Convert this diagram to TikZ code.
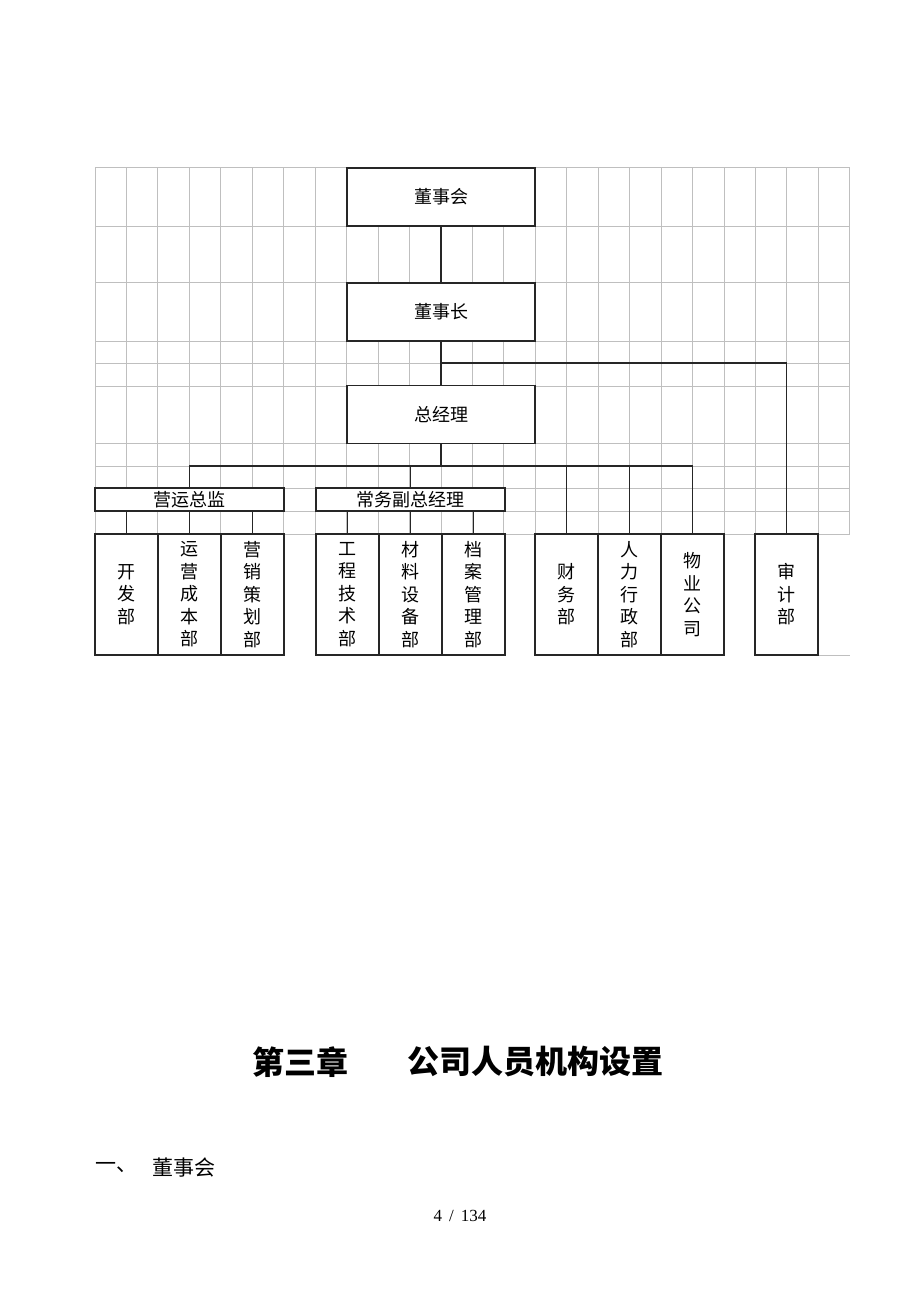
\documentclass[tikz,border=0pt]{standalone}
\usepackage{fontspec}
\setmainfont{Liberation Serif}
\newfontfamily\cjk{Noto Sans CJK SC}
\begin{document}
\begin{tikzpicture}[x=1pt,y=-1pt,
  gridline/.style={draw=gray!50,line width=0.9pt},
  box/.style={draw=black!85,line width=1.7pt,fill=white,inner sep=0pt,
    font=\cjk\fontsize{18}{21}\selectfont},
  bigbox/.style={box,minimum width=188pt,minimum height=58pt},
  midbox/.style={box,minimum width=189pt,minimum height=23pt},
  deptbox/.style={box,minimum width=63pt,minimum height=121pt,align=center,
    font=\cjk\fontsize{18}{22.5}\selectfont},
  conn/.style={draw=black!85,line width=1.9pt}]
\useasboundingbox (0,0) rectangle (920,1302);
\fill[white] (0,0) rectangle (920,1302);
% background grid
\foreach \yy in {167,226,282,341,363,386,443,466,488,511,534}
  \draw[gridline] (95,\yy) -- (850,\yy);
\foreach \k in {0,...,24}
  \draw[gridline] ({95+31.45*\k},167) -- ({95+31.45*\k},534);
\draw[gridline] (818,655) -- (850,655);
% top boxes
\node[bigbox] (dsh) at (441,197) {董事会};
\node[bigbox] (dsz) at (441,312) {董事长};
\node[bigbox] (zjl) at (441,414.5) {总经理};
% middle boxes
\node[midbox] (yy) at (189.5,499.5) {营运总监};
\node[midbox] (cw) at (410.5,499.5) {常务副总经理};
% departments
\node[deptbox] (kf) at (126.5,594.5) {开\\发\\部};
\node[deptbox] (yc) at (189.5,594.5) {运\\营\\成\\本\\部};
\node[deptbox] (yx) at (252.5,594.5) {营\\销\\策\\划\\部};
\node[deptbox] (gc) at (347.5,594.5) {工\\程\\技\\术\\部};
\node[deptbox] (cl) at (410.5,594.5) {材\\料\\设\\备\\部};
\node[deptbox] (da) at (473.5,594.5) {档\\案\\管\\理\\部};
\node[deptbox] (cwb) at (566.5,594.5) {财\\务\\部};
\node[deptbox] (rl) at (629.5,594.5) {人\\力\\行\\政\\部};
\node[deptbox] (wy) at (692.5,594.5) {物\\业\\公\\司};
\node[deptbox] (sj) at (786.5,594.5) {审\\计\\部};
% connectors
\coordinate (j1) at (441,363);
\coordinate (j2) at (441,466);
\draw[conn] (dsh.south) -- (dsz.north);
\draw[conn] (dsz.south) -- (zjl.north);
\draw[conn] (j1) -| (sj.north);
\draw[conn] (zjl.south) -- (j2);
\draw[conn] (yy.north) |- (j2) -| (wy.north);
\draw[conn] (cw.north) -- (cw.north |- j2);
\draw[conn] (cwb.north) -- (cwb.north |- j2);
\draw[conn] (rl.north) -- (rl.north |- j2);
\foreach \n in {kf,yc,yx} \draw[conn] (\n.north) -- (\n.north |- yy.south);
\foreach \n in {gc,cl,da} \draw[conn] (\n.north) -- (\n.north |- cw.south);
% text below
\node[font=\cjk\bfseries\fontsize{32}{36}\selectfont] (ch) at (300,1062) {第三章};
\node[font=\cjk\bfseries\fontsize{32}{36}\selectfont] (ti) at (535,1062) {公司人员机构设置};
\node[anchor=west,inner sep=0pt,font=\cjk\fontsize{21}{24}\selectfont] (s1) at (95,1168) {一、};
\node[anchor=west,inner sep=0pt,font=\cjk\fontsize{21}{24}\selectfont] (s2) at (152,1168) {董事会};
\node[font=\fontsize{17}{20}\selectfont] (pg) at (460,1216) {4\hspace{7pt}/\hspace{7pt}134};
\end{tikzpicture}
\end{document}
